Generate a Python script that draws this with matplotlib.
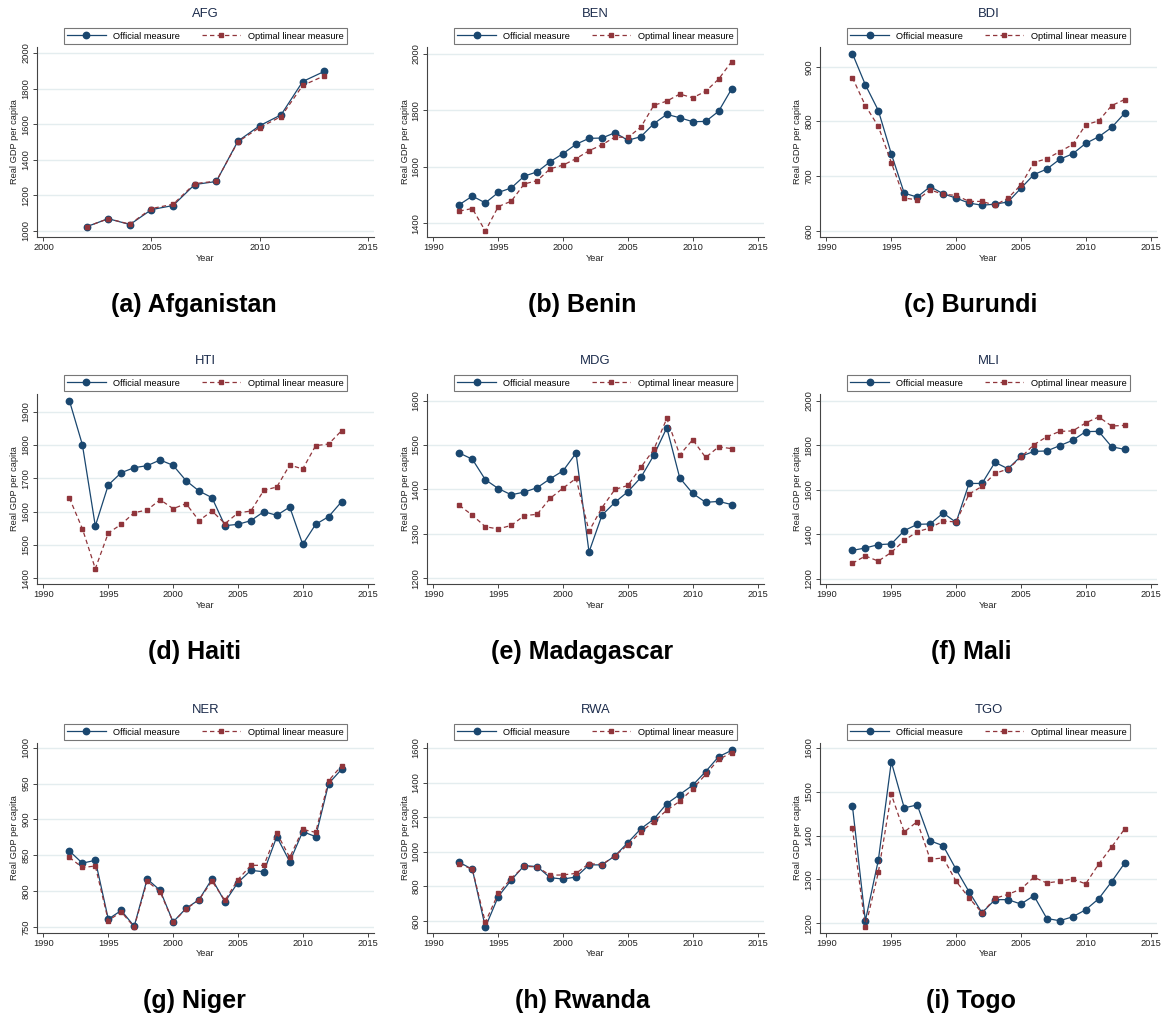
import matplotlib.pyplot as plt
from matplotlib.ticker import FixedLocator

plt.rcParams['font.family'] = ['Liberation Sans', 'DejaVu Sans']

# ---- data ----
years = [1992, 1993, 1994, 1995, 1996, 1997, 1998, 1999, 2000, 2001, 2002,
         2003, 2004, 2005, 2006, 2007, 2008, 2009, 2010, 2011, 2012, 2013]
years_afg = [2002, 2003, 2004, 2005, 2006, 2007, 2008, 2009, 2010, 2011, 2012, 2013]

afg_official = [1024, 1069, 1036, 1120, 1143, 1261, 1278, 1505, 1591, 1653, 1840, 1897]
afg_optimal = [1024, 1069, 1038, 1126, 1150, 1266, 1280, 1501, 1581, 1643, 1818, 1872]

ben_official = [1466, 1496, 1472, 1509, 1525, 1567, 1582, 1618, 1647, 1680, 1701,
                1702, 1721, 1694, 1707, 1753, 1786, 1774, 1760, 1761, 1797, 1876]
ben_optimal = [1443, 1452, 1372, 1459, 1478, 1539, 1551, 1593, 1606, 1629, 1657,
               1678, 1706, 1704, 1741, 1818, 1833, 1858, 1845, 1868, 1911, 1973]

bdi_official = [924, 867, 820, 741, 669, 662, 681, 668, 660, 651, 647,
                649, 653, 678, 703, 713, 731, 741, 760, 772, 789, 815]
bdi_optimal = [880, 829, 791, 725, 660, 657, 675, 667, 665, 654, 654,
               647, 660, 684, 725, 732, 745, 758, 794, 801, 829, 840]

hti_official = [1933, 1801, 1557, 1680, 1717, 1732, 1738, 1755, 1739, 1693, 1662,
                1642, 1558, 1562, 1573, 1600, 1589, 1614, 1502, 1562, 1585, 1630]
hti_optimal = [1641, 1549, 1429, 1536, 1562, 1597, 1605, 1636, 1609, 1624, 1573,
               1602, 1564, 1596, 1602, 1664, 1674, 1740, 1728, 1798, 1803, 1843]

mdg_official = [1482, 1468, 1422, 1402, 1388, 1394, 1404, 1424, 1442, 1482, 1259,
                1342, 1371, 1395, 1427, 1477, 1539, 1426, 1391, 1371, 1373, 1366]
mdg_optimal = [1364, 1342, 1316, 1311, 1319, 1341, 1344, 1380, 1403, 1425, 1306,
               1359, 1400, 1409, 1450, 1490, 1560, 1478, 1512, 1472, 1496, 1492]

mli_official = [1327, 1338, 1353, 1356, 1416, 1444, 1446, 1495, 1453, 1628, 1628,
                1723, 1694, 1750, 1772, 1774, 1798, 1822, 1861, 1862, 1793, 1781]
mli_optimal = [1269, 1302, 1279, 1318, 1372, 1411, 1428, 1459, 1455, 1580, 1615,
               1673, 1693, 1745, 1802, 1838, 1862, 1864, 1900, 1927, 1886, 1889]

ner_official = [856, 839, 843, 761, 773, 751, 817, 801, 757, 776, 788,
                817, 785, 812, 829, 827, 876, 841, 883, 876, 950, 970]
ner_optimal = [847, 833, 835, 759, 771, 750, 814, 799, 757, 775, 788,
               814, 787, 816, 836, 836, 881, 847, 886, 882, 954, 975]

rwa_official = [939, 898, 563, 741, 836, 920, 914, 850, 842, 854, 924,
                924, 976, 1053, 1133, 1189, 1278, 1331, 1385, 1464, 1550, 1586]
rwa_optimal = [931, 898, 592, 759, 846, 916, 912, 864, 866, 875, 931,
               926, 976, 1040, 1115, 1174, 1240, 1292, 1364, 1447, 1534, 1573]

tgo_official = [1468, 1206, 1344, 1568, 1463, 1470, 1388, 1377, 1323, 1272, 1224,
                1254, 1254, 1244, 1263, 1211, 1206, 1215, 1231, 1256, 1295, 1337]
tgo_optimal = [1417, 1191, 1316, 1494, 1408, 1432, 1346, 1349, 1296, 1258, 1224,
               1257, 1266, 1278, 1305, 1292, 1296, 1301, 1290, 1335, 1374, 1415]

codes = ['AFG', 'BEN', 'BDI', 'HTI', 'MDG', 'MLI', 'NER', 'RWA', 'TGO']
captions = ['(a) Afganistan', '(b) Benin', '(c) Burundi', '(d) Haiti', '(e) Madagascar',
            '(f) Mali', '(g) Niger', '(h) Rwanda', '(i) Togo']
series = [
    (years_afg, afg_official, afg_optimal),
    (years, ben_official, ben_optimal),
    (years, bdi_official, bdi_optimal),
    (years, hti_official, hti_optimal),
    (years, mdg_official, mdg_optimal),
    (years, mli_official, mli_optimal),
    (years, ner_official, ner_optimal),
    (years, rwa_official, rwa_optimal),
    (years, tgo_official, tgo_optimal),
]

# axis settings per panel
ylims = [(966, 2034), (1351, 2025), (589, 936), (1383, 1953), (1187, 1615),
         (1176, 2030), (741.6, 1006.6), (530, 1629), (1178, 1611)]
yticks = [range(1000, 2001, 200), range(1400, 2001, 200), range(600, 901, 100),
          range(1400, 1901, 100), range(1200, 1601, 100), range(1200, 2001, 200),
          range(750, 1001, 50), range(600, 1601, 200), range(1200, 1601, 100)]

# ---- figure ----
W, H = 1165, 1017
fig = plt.figure(figsize=(W / 100, H / 100), dpi=100)

navy = '#1a476f'
maroon = '#90353b'
grid_c = '#e4edef'
small = 6.7

lefts = [37, 427, 820]
tops = [47, 394, 743]
aw, ah = 337, 190

for i, code in enumerate(codes):
    r, c = divmod(i, 3)
    ax = fig.add_axes([lefts[c] / W, 1 - (tops[r] + ah) / H, aw / W, ah / H])
    yrs, off, opt = series[i]

    ax.plot(yrs, off, color=navy, lw=0.9, marker='o', ms=4.6,
            label='Official measure', zorder=3)
    ax.plot(yrs, opt, color=maroon, lw=0.9, ls=(0, (3.5, 2.5)), marker='s', ms=3.4,
            label='Optimal linear measure', zorder=4)

    if code == 'AFG':
        ax.set_xlim(1999.7, 2015.3)
        ax.set_xticks([2000, 2005, 2010, 2015])
    else:
        ax.set_xlim(1989.5, 2015.5)
        ax.set_xticks([1990, 1995, 2000, 2005, 2010, 2015])
    ax.set_ylim(*ylims[i])
    ax.yaxis.set_major_locator(FixedLocator(list(yticks[i])))
    ax.grid(axis='y', color=grid_c, lw=1.0, zorder=0)
    ax.set_axisbelow(True)

    for s in ['top', 'right']:
        ax.spines[s].set_visible(False)
    for s in ['left', 'bottom']:
        ax.spines[s].set_color('#444444')
        ax.spines[s].set_linewidth(0.8)

    ax.tick_params(axis='both', labelsize=small, length=3, width=0.7,
                   color='#444444', labelcolor='#222222')
    ax.tick_params(axis='x', pad=1.4)
    ax.tick_params(axis='y', pad=1.6)
    plt.setp(ax.get_yticklabels(), rotation=90, va='center')

    ax.set_xlabel('Year', fontsize=small, color='#222222')
    ax.xaxis.label.set_va('center')
    ax.xaxis.set_label_coords(0.5, -21 / ah)
    ax.set_ylabel('Real GDP per capita', fontsize=small, color='#222222')
    ax.yaxis.label.set_va('center')
    ax.yaxis.set_label_coords(-22 / aw, 0.5)

    ax.text(0.5, 1 + 33 / ah, code, transform=ax.transAxes, ha='center',
            va='center', fontsize=9.4, color='#1c2c4c')

    leg = ax.legend(loc='lower center', bbox_to_anchor=(0.5, 1.016), ncol=2,
                    fontsize=small, frameon=True, fancybox=False,
                    edgecolor='#555555', handlelength=4.1, handletextpad=0.8,
                    columnspacing=2.4, borderpad=0.35, borderaxespad=0,
                    numpoints=1)
    leg.get_frame().set_linewidth(0.8)

    fig.text((c * W / 3 + W / 6) / W, 1 - (tops[r] + ah + 68) / H, captions[i],
             ha='center', va='center', fontsize=18, fontweight='bold')

fig.savefig('out.png', dpi=100, facecolor='white')
